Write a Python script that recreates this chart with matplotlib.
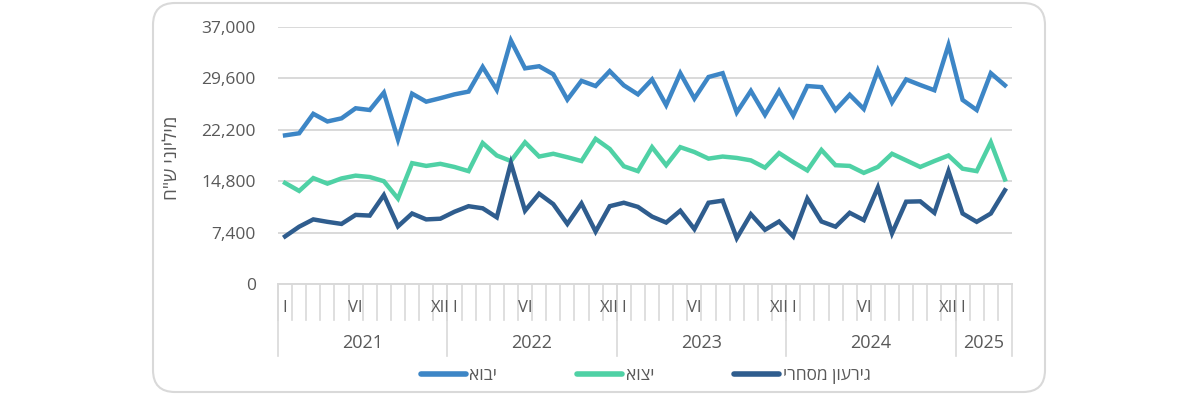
import numpy as np
import matplotlib
matplotlib.use("Agg")
import matplotlib.pyplot as plt
from matplotlib.patches import FancyBboxPatch
from matplotlib.ticker import FuncFormatter

plt.rcParams['font.family'] = ['Open Sans', 'DejaVu Sans']

# monthly values, Jan 2021 - Apr 2025 (millions NIS)
imports = [21400, 21700, 24500, 23400, 23850, 25300, 25050, 27550, 20800, 27400, 26250, 26750,
           27300, 27700, 31250, 27950, 35050, 31050, 31350, 30200, 26550, 29250, 28500, 30650,
           28600, 27300, 29450, 25750, 30350, 26700, 29800, 30350, 24700, 27800, 24350, 27800,
           24250, 28500, 28350, 25050, 27250, 25200, 30750, 26150, 29450, 28650, 27900, 34400,
           26500, 25050, 30350, 28600]
exports = [14550, 13400, 15250, 14450, 15200, 15600, 15400, 14800, 12300, 17400, 17000, 17300,
           16850, 16250, 20300, 18500, 17700, 20400, 18350, 18750, 18250, 17700, 20900, 19450,
           16950, 16250, 19700, 17100, 19700, 19000, 18050, 18350, 18150, 17800, 16750, 18850,
           17550, 16350, 19300, 17100, 17000, 16000, 16850, 18750, 17800, 16850, 17700, 18500,
           16600, 16250, 20400, 15050]
deficit = [6850, 8250, 9300, 8950, 8650, 9950, 9850, 12800, 8300, 10150, 9300, 9400,
           10400, 11200, 10900, 9600, 17400, 10550, 13000, 11500, 8650, 11600, 7550, 11200,
           11700, 11100, 9700, 8850, 10550, 7900, 11700, 12000, 6600, 10050, 7800, 9000,
           6850, 12300, 9000, 8250, 10250, 9200, 13900, 7300, 11850, 11900, 10250, 16250,
           10150, 8950, 10150, 13500]

years = ["2021", "2022", "2023", "2024", "2025"]
months_per_year = [12, 12, 12, 12, 4]
month_labels = {1: "I", 6: "VI", 12: "XII"}
y_ticks = [0, 7400, 14800, 22200, 29600, 37000]

names = ["יבוא", "יצוא", "גירעון מסחרי"]
colors = ["#3D86C6", "#4FD1A5", "#2F5D8E"]
y_title = 'מיליוני ש"ח'

txt = "#595959"
grid = "#D9D9D9"

fig = plt.figure(figsize=(12, 3.95), dpi=100)
ax = fig.add_axes([278 / 1200, 1 - 284 / 395, 734 / 1200, 257 / 395])

x = np.arange(len(imports))
for vals, name, c in zip([imports, exports, deficit], names, colors):
    ax.plot(x, vals, color=c, lw=3.2, label=name[::-1], solid_joinstyle='miter')

ax.set_xlim(-0.5, len(imports) - 0.5)
ax.set_ylim(0, 37000)
ax.set_yticks(y_ticks)
ax.yaxis.set_major_formatter(FuncFormatter(lambda v, p: f"{int(v):,}"))
ax.tick_params(axis='y', length=0, pad=16, labelsize=12.5, labelcolor=txt)
ax.set_xticks([])
ax.grid(axis='y', color=grid, lw=1.4)
ax.set_axisbelow(True)
for s in ["top", "right", "left"]:
    ax.spines[s].set_visible(False)
ax.spines["bottom"].set_color(grid)
ax.spines["bottom"].set_linewidth(1.4)

# multi level category axis
trans = ax.get_xaxis_transform()
start = 0
for yr, n in zip(years, months_per_year):
    for m in range(n):
        i = start + m
        ax.plot([i - 0.5, i - 0.5], [0, -0.14], transform=trans, color=grid, lw=1.2, clip_on=False)
        if m + 1 in month_labels:
            ax.text(i, -0.095, month_labels[m + 1], transform=trans, ha='center', va='center',
                    fontsize=12, color=txt)
    ax.plot([start - 0.5, start - 0.5], [0, -0.28], transform=trans, color=grid, lw=1.2, clip_on=False)
    ax.text(start + n / 2 - 0.5, -0.23, yr, transform=trans, ha='center', va='center',
            fontsize=13, color=txt)
    start += n
ax.plot([start - 0.5, start - 0.5], [0, -0.28], transform=trans, color=grid, lw=1.2, clip_on=False)

fig.text(172 / 1200, 1 - 158 / 395, y_title[::-1], rotation=90, ha='center', va='center',
         fontsize=13.5, color=txt)

fig.legend(loc='center', bbox_to_anchor=(0.538, 1 - 376 / 395), ncol=3, frameon=False,
           fontsize=12.5, handlelength=2.6, handletextpad=0.2, columnspacing=4.6,
           labelcolor=txt)
for line in fig.legends[0].get_lines():
    line.set_linewidth(4)
    line.set_solid_capstyle('round')

frame = FancyBboxPatch((1.53, 0.03), 8.92, 3.89, boxstyle="round,pad=0,rounding_size=0.22",
                       transform=fig.dpi_scale_trans, facecolor='none', edgecolor=grid, lw=1.5)
fig.patches.append(frame)

fig.savefig("out.png", dpi=100)
